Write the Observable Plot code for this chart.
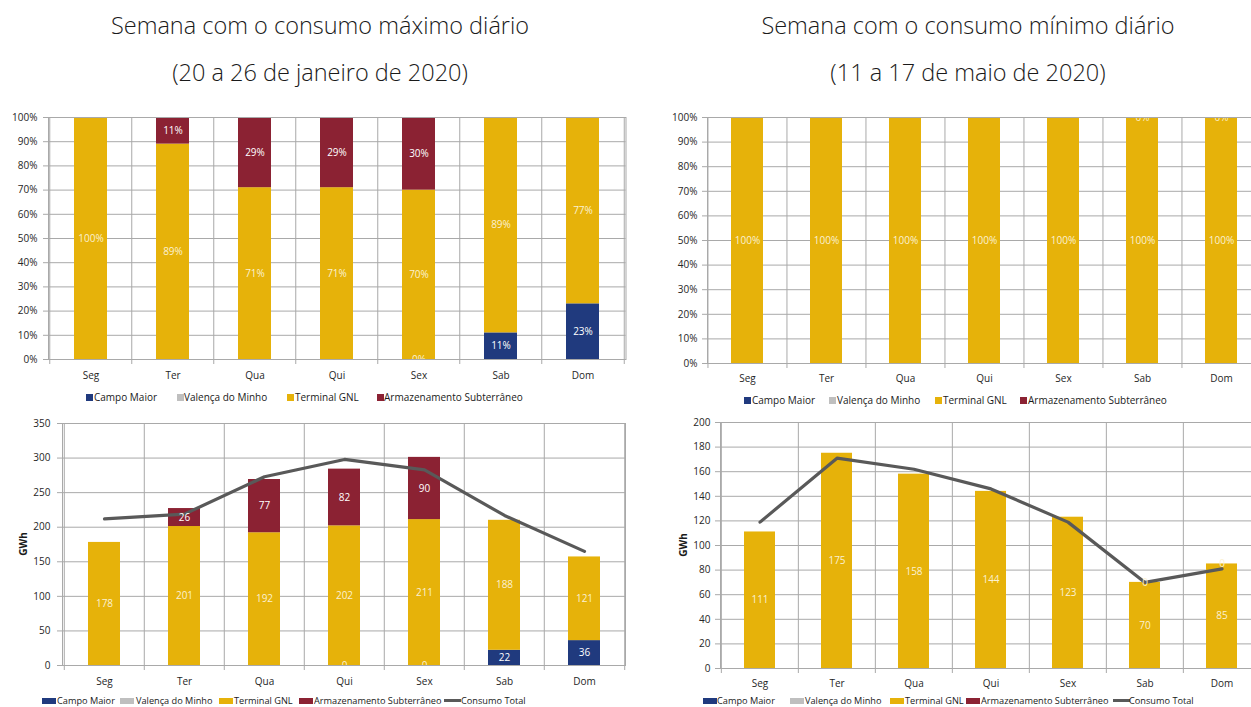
<!DOCTYPE html>
<html><head><meta charset="utf-8">
<script src="https://cdn.jsdelivr.net/npm/d3@7"></script>
<script src="https://cdn.jsdelivr.net/npm/@observablehq/plot@0.6"></script>
<style>
body{margin:0;background:#fff;font-family:"Open Sans",sans-serif;}
#page{position:relative;width:1251px;height:707px;overflow:hidden;background:#fff;}
.title{position:absolute;font-weight:300;font-size:23.5px;color:#1a1a1a;text-align:center;width:640px;white-space:nowrap;line-height:1;}
.chart{position:absolute;}
.leg{position:absolute;color:#1a1a1a;white-space:nowrap;line-height:1;}
.sw{position:absolute;}
.ylab{position:absolute;font-weight:700;font-size:10px;line-height:1;color:#1a1a1a;transform:translate(-50%,-50%) rotate(-90deg);}
</style></head><body><div id="page"></div>
<script>
// ---------- data ----------
const days = ["Seg", "Ter", "Qua", "Qui", "Sex", "Sab", "Dom"];
const seriesNames = ["Campo Maior", "Valença do Minho", "Terminal GNL", "Armazenamento Subterrâneo"];
const seriesColors = ["#203a7e", "#bfbfbf", "#e6b20a", "#8b2233"];

// Week of maximum daily consumption (20 a 26 de janeiro de 2020)
const maxPctCampoMaior = [null, null, null, null, 0, 11, 23];
const maxPctValenca    = [null, null, null, null, null, null, null];
const maxPctGNL        = [100, 89, 71, 71, 70, 89, 77];
const maxPctArmaz      = [null, 11, 29, 29, 30, null, null];

const maxCampoMaior = [null, null, null, 0, 0, 22, 36];
const maxValenca    = [null, null, null, null, null, null, null];
const maxGNL        = [178, 201, 192, 202, 211, 188, 121];
const maxArmaz      = [null, 26, 77, 82, 90, null, null];
const maxTotal      = [212, 219, 273, 298, 283, 217, 165];

// Week of minimum daily consumption (11 a 17 de maio de 2020)
const minPctCampoMaior = [null, null, null, null, null, null, null];
const minPctValenca    = [null, null, null, null, null, null, null];
const minPctGNL        = [100, 100, 100, 100, 100, 100, 100];
const minPctArmaz      = [null, null, null, null, null, 0, 0];

const minCampoMaior = [null, null, null, null, null, null, null];
const minValenca    = [null, null, null, null, null, null, null];
const minGNL        = [111, 175, 158, 144, 123, 70, 85];
const minArmaz      = [null, null, null, null, null, 0, 0];
const minTotal      = [119, 171, 162, 146, 119, 70, 81];

const pctTicks = [0, 10, 20, 30, 40, 50, 60, 70, 80, 90, 100];
const maxGwhTicks = [0, 50, 100, 150, 200, 250, 300, 350];
const minGwhTicks = [0, 20, 40, 60, 80, 100, 120, 140, 160, 180, 200];

// ---------- helpers ----------
const GRID = "#a9a9a9";
function longRows(arrays) {
  const rows = [];
  arrays.forEach((arr, s) => arr.forEach((v, i) => {
    if (v != null) rows.push({day: days[i], series: seriesNames[s], value: v});
  }));
  return rows;
}
function totalRows(arr) { return arr.map((v, i) => ({day: days[i], value: v})); }

const page = document.getElementById("page");
function place(el, cls, left, top) {
  el.classList.add(cls); el.style.left = left + "px"; el.style.top = top + "px";
  page.appendChild(el); return el;
}

function chart(o) {
  const step = (o.width - o.ml - o.mr) / days.length;
  const lightOnGold = "#fbf1d2";
  const stackOpts = (txt, fill) => Plot.stackY({x: "day", y: "value", z: "series", order: seriesNames,
      text: txt, fill, fontSize: 10, clip: true});
  const marks = [
    Plot.ruleY(o.ticks, {y: d => d, stroke: GRID, insetLeft: -5}),
    Plot.ruleX(days, {x: d => d, dx: -step / 2, stroke: GRID, insetBottom: -5}),
    Plot.ruleX(days.slice(-1), {x: d => d, dx: step / 2, stroke: GRID, insetBottom: -5}),
    Plot.barY(o.rows, Plot.stackY({x: "day", y: "value", fill: "series", z: "series", order: seriesNames}))
  ];
  if (o.total) {
    marks.push(Plot.line(o.total, {x: "day", y: "value", stroke: "#595959", strokeWidth: 3.2,
      strokeLinejoin: "round", strokeLinecap: "round"}));
  }
  // labels: stacked over the full data, shown per series colour
  marks.push(Plot.text(o.rows, stackOpts(d => d.series === "Terminal GNL" || d.value === 0 ? o.fmt(d.value) : "", lightOnGold)));
  marks.push(Plot.text(o.rows, stackOpts(d => d.series !== "Terminal GNL" && d.value !== 0 ? o.fmt(d.value) : "", "#ffffff")));
  marks.push(Plot.frame({stroke: GRID}));
  const svg = Plot.plot({
    width: o.width, height: o.height,
    marginLeft: o.ml, marginRight: o.mr, marginTop: o.mt, marginBottom: o.mb,
    style: {fontFamily: "Open Sans", fontSize: "10px", color: "#262626", background: "transparent", overflow: "visible"},
    x: {domain: days, paddingInner: 0.6, paddingOuter: 0.3, tickSize: 0, tickPadding: o.xPad, label: null},
    y: {domain: o.domain, ticks: o.ticks, tickFormat: o.tickFmt, tickSize: 0, tickPadding: o.yPad, label: null},
    color: {domain: seriesNames, range: seriesColors},
    marks
  });
  svg.classList.add("chart");
  svg.style.left = o.left + "px"; svg.style.top = o.top + "px";
  page.appendChild(svg);
}

function legend(items, y, fs, wide, sh) {
  items.forEach(([name, sx, tx]) => {
    const i = seriesNames.indexOf(name);
    const sw = document.createElement("div");
    if (i >= 0) {
      sw.style.width = (wide ? 14 : 7) + "px";
      sw.style.height = (wide ? sh : 7) + "px";
      sw.style.background = seriesColors[i];
      place(sw, "sw", sx, y - (wide ? sh / 2 : 3.5));
    } else {
      sw.style.width = "17px"; sw.style.height = "3px"; sw.style.background = "#595959";
      place(sw, "sw", sx, y - 1.5);
    }
    const t = document.createElement("div");
    t.textContent = name; t.style.fontSize = fs + "px";
    place(t, "leg", tx, y - 0.531 * fs);
  });
}

// ---------- titles ----------
[["Semana com o consumo máximo diário", 0, 14], ["(20 a 26 de janeiro de 2020)", 0, 61],
 ["Semana com o consumo mínimo diário", 648, 14], ["(11 a 17 de maio de 2020)", 648, 61]]
  .forEach(([txt, x, y]) => { const d = document.createElement("div"); d.textContent = txt; place(d, "title", x, y); });

const pctFmt = v => v + "%";
// top-left
chart({rows: longRows([maxPctCampoMaior, maxPctValenca, maxPctGNL, maxPctArmaz]), domain: [0, 100], ticks: pctTicks,
  tickFmt: pctFmt, fmt: pctFmt, width: 640, height: 290, ml: 48, mr: 14.5, mt: 12, mb: 36, left: 0, top: 105, xPad: 12.5, yPad: 11});
// top-right
chart({rows: longRows([minPctCampoMaior, minPctValenca, minPctGNL, minPctArmaz]), domain: [0, 100], ticks: pctTicks,
  tickFmt: pctFmt, fmt: pctFmt, width: 660, height: 290, ml: 47, mr: 59.5, mt: 12, mb: 32, left: 660, top: 105, xPad: 11.5, yPad: 10});
// bottom-left
chart({rows: longRows([maxCampoMaior, maxValenca, maxGNL, maxArmaz]), total: totalRows(maxTotal), domain: [0, 350], ticks: maxGwhTicks,
  tickFmt: d => d, fmt: d => d, width: 640, height: 290, ml: 62, mr: 15, mt: 13, mb: 35, left: 0, top: 410, xPad: 12.5, yPad: 12});
// bottom-right
chart({rows: longRows([minCampoMaior, minValenca, minGNL, minArmaz]), total: totalRows(minTotal), domain: [0, 200], ticks: minGwhTicks,
  tickFmt: d => d, fmt: d => d, width: 660, height: 290, ml: 60, mr: 59, mt: 12, mb: 32, left: 660, top: 410, xPad: 11.5, yPad: 10});

// y labels
[[23, 544], [683, 545]].forEach(([x, y]) => { const d = document.createElement("div"); d.textContent = "GWh"; place(d, "ylab", x, y); });

// ---------- legends ----------
legend([["Campo Maior", 86, 94], ["Valença do Minho", 177, 184], ["Terminal GNL", 287, 295], ["Armazenamento Subterrâneo", 377, 384]], 397.3, 10, false);
legend([["Campo Maior", 744, 752], ["Valença do Minho", 829, 837], ["Terminal GNL", 935, 943], ["Armazenamento Subterrâneo", 1020, 1028]], 400, 10, false);
legend([["Campo Maior", 42, 57], ["Valença do Minho", 120, 136], ["Terminal GNL", 219, 234], ["Armazenamento Subterrâneo", 299, 314], ["Consumo Total", 444, 461]], 700.5, 9.2, true, 6);
legend([["Campo Maior", 703, 717], ["Valença do Minho", 790, 805], ["Terminal GNL", 890, 905], ["Armazenamento Subterrâneo", 966, 981], ["Consumo Total", 1113, 1129]], 700.5, 9.2, true, 6);
</script></body></html>
